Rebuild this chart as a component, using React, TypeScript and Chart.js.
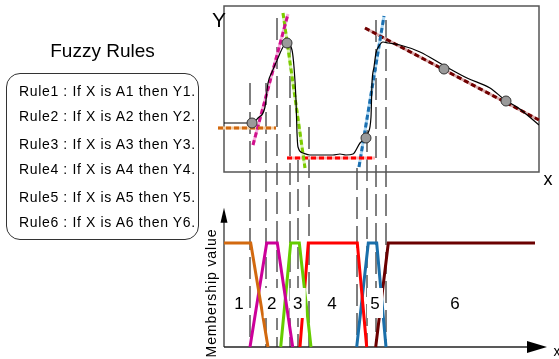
import React, { useEffect, useRef } from 'react';
import { Chart, registerables } from 'chart.js';
Chart.register(...registerables);

// ---------- data (x in diagram units 0..315, top Y in units 0..166, membership 0..1) ----------
const curveX = [0, 28, 34, 41, 44, 48, 54, 59, 63, 68, 70, 72, 73, 74, 79, 86, 109, 116, 122, 129, 136, 142, 144, 147, 148, 150, 152, 155, 159, 164, 176, 196, 219, 243, 266, 281, 293, 315];
const curveY = [49, 49, 54, 65, 89, 100, 114, 125, 129, 122, 105, 72, 39, 25, 19, 17, 17, 18, 17, 18, 29, 34, 39, 55, 89, 105, 119, 126, 130, 129, 127, 120, 107, 94, 84, 72, 65, 47];

const markerX = [28, 63, 142, 220, 282];
const markerY = [49, 129, 34, 103, 71];

const fitOrangeX = [-6, 52];
const fitOrangeY = [44, 44];
const fitMagentaX = [29, 64];
const fitMagentaY = [27, 158];
const fitGreenX = [59, 81];
const fitGreenY = [159, 4];
const fitRedX = [63, 151];
const fitRedY = [14, 14];
const fitBlueX = [135, 160];
const fitBlueY = [5, 156];
const fitMaroonX = [141, 315];
const fitMaroonY = [144, 52];

const mf1X = [0, 26.7, 44];
const mf1Y = [1, 1, 0];
const mf2X = [26, 42.7, 53.3, 68.7];
const mf2Y = [0, 1, 1, 0];
const mf3X = [56.7, 66.7, 75.3, 87];
const mf3Y = [0, 1, 1, 0];
const mf4X = [76, 84.3, 133.3, 142.7];
const mf4Y = [0, 1, 1, 0];
const mf5X = [132.7, 144.3, 152.7, 162];
const mf5Y = [0, 1, 1, 0];
const mf6X = [151.7, 164.3, 311];
const mf6Y = [0, 1, 1];

const guideX = [26, 42, 53, 66, 74, 85, 133, 143, 152, 162];
const guideTop = [89, 89, 154, 125, 12, 45, 4, 42, 152, 152];

const regionLabels = ['1', '2', '3', '4', '5', '6'];
const regionX = [15, 47.7, 73.7, 108, 151, 231];
const regionY = 0.423;

const ruleTexts = [
  'Rule1 : If X is A1 then Y1.',
  'Rule2 : If X is A2 then Y2.',
  'Rule3 : If X is A3 then Y3.',
  'Rule4 : If X is A4 then Y4.',
  'Rule5 : If X is A5 then Y5.',
  'Rule6 : If X is A6 then Y6.',
];
const ruleBaselines = [95.7, 121, 149.3, 174.3, 201.7, 226.7];

const FONT = "'Liberation Sans', Arial, sans-serif";

const pts = (xs: number[], ys: number[]) => xs.map((x, i) => ({ x, y: ys[i] }));

const fitLines = [
  { xs: fitOrangeX, ys: fitOrangeY, c: '#D2690F', l: '#F6CDA0' },
  { xs: fitMagentaX, ys: fitMagentaY, c: '#D0108C', l: '#F6B0DD' },
  { xs: fitGreenX, ys: fitGreenY, c: '#7CCC00', l: '#D8F2B0' },
  { xs: fitRedX, ys: fitRedY, c: '#FF0000', l: '#FFB0B0' },
  { xs: fitBlueX, ys: fitBlueY, c: '#1A6FB0', l: '#B0D8F2' },
  { xs: fitMaroonX, ys: fitMaroonY, c: '#700000', l: '#D8A8A8' },
];

const mfLines = [
  { xs: mf1X, ys: mf1Y, c: '#D2690F' },
  { xs: mf2X, ys: mf2Y, c: '#CC0099' },
  { xs: mf3X, ys: mf3Y, c: '#66CC00' },
  { xs: mf4X, ys: mf4Y, c: '#FF0000' },
  { xs: mf5X, ys: mf5Y, c: '#1A6FAA' },
  { xs: mf6X, ys: mf6Y, c: '#6B0000' },
];

const diagramPlugin = {
  id: 'diagram',
  beforeDatasetsDraw(chart: any) {
    const { ctx } = chart;
    const x = chart.scales.x, yt = chart.scales.yt, yb = chart.scales.yb;
    ctx.save();
    // top panel frame
    const l = x.getPixelForValue(0), r = x.getPixelForValue(315);
    const t = yt.getPixelForValue(166), b = yt.getPixelForValue(0);
    ctx.strokeStyle = '#555';
    ctx.lineWidth = 1.5;
    ctx.strokeRect(l, t, r - l, b - t);
    // vertical dashed guides
    ctx.setLineDash([22, 7]);
    ctx.strokeStyle = '#555';
    ctx.lineWidth = 1.5;
    guideX.forEach((gx, i) => {
      const px = x.getPixelForValue(gx);
      ctx.beginPath();
      ctx.moveTo(px, yt.getPixelForValue(guideTop[i]));
      ctx.lineTo(px, yb.getPixelForValue(0));
      ctx.stroke();
    });
    ctx.setLineDash([]);
    // bottom axes with arrows
    const ax = x.getPixelForValue(0);
    const ay = yb.getPixelForValue(0);
    const yTip = yb.getPixelForValue(1.34);
    const xTip = x.getPixelForValue(323);
    ctx.strokeStyle = '#222';
    ctx.fillStyle = '#000';
    ctx.lineWidth = 1.2;
    ctx.beginPath();
    ctx.moveTo(ax, ay);
    ctx.lineTo(ax, yTip + 10);
    ctx.stroke();
    ctx.beginPath();
    ctx.moveTo(ax, yTip);
    ctx.lineTo(ax - 3.5, yTip + 15);
    ctx.lineTo(ax + 3.5, yTip + 15);
    ctx.closePath();
    ctx.fill();
    ctx.lineWidth = 1.5;
    ctx.beginPath();
    ctx.moveTo(ax, ay);
    ctx.lineTo(xTip - 15, ay);
    ctx.stroke();
    ctx.beginPath();
    ctx.moveTo(xTip, ay);
    ctx.lineTo(xTip - 20, ay - 6);
    ctx.lineTo(xTip - 20, ay + 6);
    ctx.closePath();
    ctx.fill();
    ctx.restore();
  },
  afterDatasetsDraw(chart: any) {
    const { ctx } = chart;
    const x = chart.scales.x, yb = chart.scales.yb;
    ctx.save();
    // region labels with white backing
    ctx.font = `17px ${FONT}`;
    ctx.textAlign = 'center';
    ctx.textBaseline = 'middle';
    regionLabels.forEach((lab, i) => {
      const px = x.getPixelForValue(regionX[i]);
      const py = yb.getPixelForValue(regionY);
      ctx.fillStyle = '#fff';
      ctx.fillRect(px - 8, py - 15, 16, 30);
      ctx.fillStyle = '#000';
      ctx.fillText(lab, px, py + 1);
    });
    // axis letters
    ctx.font = `21px ${FONT}`;
    ctx.fillText('Y', 219, 21);
    ctx.font = `18px ${FONT}`;
    ctx.fillText('x', 548, 180);
    ctx.font = `14px ${FONT}`;
    ctx.fillText('x', 557, 352);
    // rotated membership label
    ctx.save();
    ctx.translate(212, 293);
    ctx.rotate(-Math.PI / 2);
    ctx.font = `14px ${FONT}`;
    (ctx as any).letterSpacing = '0.9px';
    ctx.fillText('Membership value', 0, 0);
    ctx.restore();
    ctx.restore();
  },
};

export default function App() {
  const ref = useRef<HTMLCanvasElement | null>(null);
  useEffect(() => {
    if (!ref.current) return;
    const datasets: any[] = [];
    datasets.push({
      data: pts(markerX, markerY), yAxisID: 'yt', showLine: false, order: 0,
      pointRadius: 5, pointBackgroundColor: '#9a9a9a', pointBorderColor: '#333', pointBorderWidth: 1,
    });
    datasets.push({
      data: pts(curveX, curveY), yAxisID: 'yt', order: 1, borderColor: '#000', borderWidth: 1.2,
      pointRadius: 0, cubicInterpolationMode: 'monotone', fill: false,
    });
    fitLines.forEach((f) => {
      datasets.push({
        data: pts(f.xs, f.ys), yAxisID: 'yt', order: 2, borderColor: f.c, borderWidth: 3,
        borderDash: [5, 3], pointRadius: 0, clip: false, fill: false,
      });
      datasets.push({
        data: pts(f.xs, f.ys), yAxisID: 'yt', order: 3, borderColor: f.l, borderWidth: 3,
        pointRadius: 0, clip: false, fill: false,
      });
    });
    mfLines.forEach((m) => {
      datasets.push({
        data: pts(m.xs, m.ys), yAxisID: 'yb', order: 4, borderColor: m.c, borderWidth: 3,
        pointRadius: 0, fill: false, tension: 0, clip: 4,
      });
    });
    const chart = new Chart(ref.current, {
      type: 'line',
      data: { datasets },
      options: {
        animation: false,
        responsive: false,
        maintainAspectRatio: false,
        events: [],
        layout: { padding: { left: 224, right: 20, top: 6, bottom: 12 } },
        plugins: { legend: { display: false }, tooltip: { enabled: false } },
        scales: {
          x: { type: 'linear', min: 0, max: 315, display: false },
          yt: { type: 'linear', min: 0, max: 166, display: false, position: 'left', stack: 's', stackWeight: 166, weight: 2 },
          yb: { type: 'linear', min: 0, max: 1.683, display: false, position: 'left', stack: 's', stackWeight: 175, weight: 1 },
        },
      } as any,
      plugins: [diagramPlugin as any],
    } as any);
    return () => chart.destroy();
  }, []);

  return (
    <div style={{ position: 'fixed', left: 0, top: 0, width: 559, height: 359, background: '#fff', overflow: 'hidden' }}>
      <canvas ref={ref} width={559} height={359} style={{ position: 'absolute', left: 0, top: 0, width: 559, height: 359 }} />
      <div style={{ position: 'absolute', left: 0, width: 205, top: 40, textAlign: 'center', font: `19px ${FONT}`, lineHeight: '22px', color: '#000' }}>
        Fuzzy Rules
      </div>
      <div style={{ position: 'absolute', left: 6, top: 73, width: 193, height: 167, border: '1.3px solid #333', borderRadius: 14, boxSizing: 'border-box' }} />
      {ruleTexts.map((t, i) => (
        <div key={i} style={{ position: 'absolute', left: 19, top: ruleBaselines[i] - 11.85, font: `14px ${FONT}`, lineHeight: '14px', letterSpacing: '0.65px', whiteSpace: 'nowrap', color: '#000' }}>
          {t}
        </div>
      ))}
    </div>
  );
}
